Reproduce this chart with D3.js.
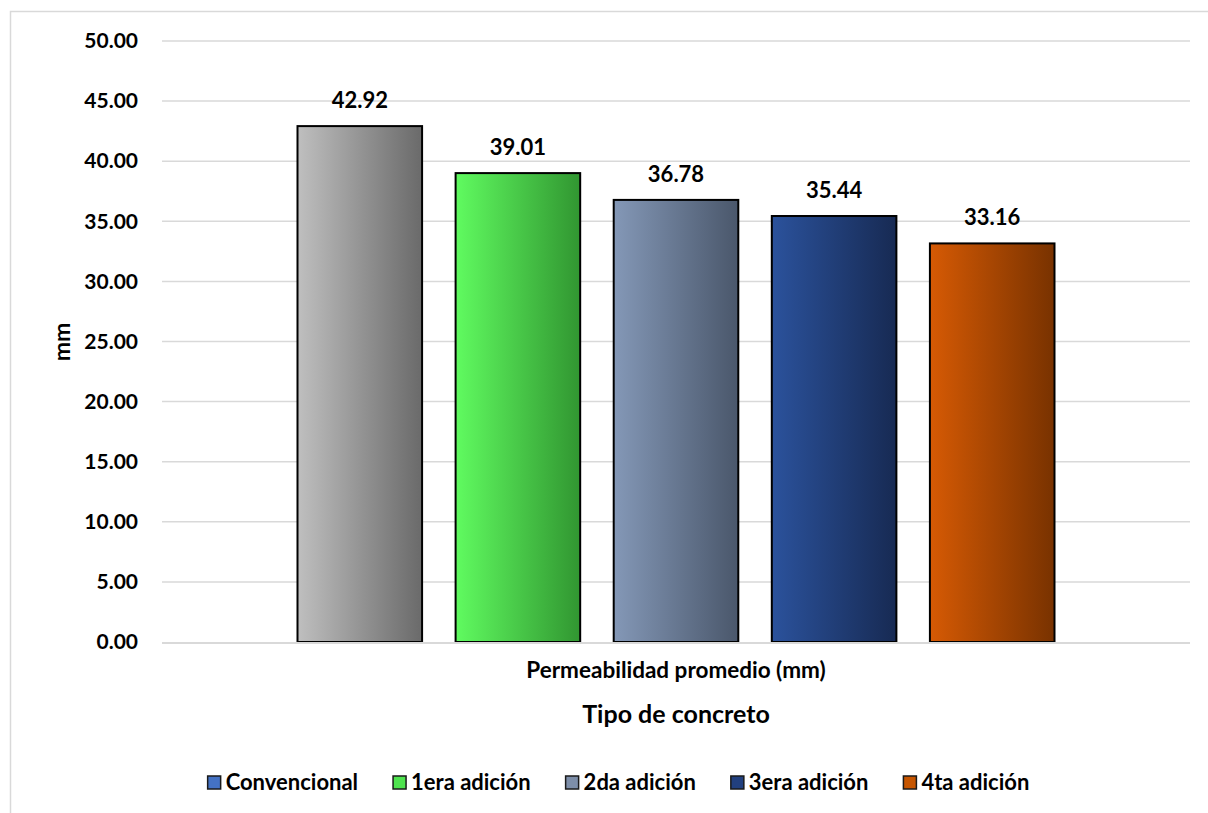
<!DOCTYPE html>
<html>
<head>
<meta charset="utf-8">
<script src="https://cdn.jsdelivr.net/npm/d3@7"></script>
<style>
  html, body { margin: 0; padding: 0; background: #fff; }
  svg { display: block; }
  text { font-family: Lato, "Open Sans", sans-serif; font-weight: bold; fill: #000; }
</style>
</head>
<body>
<svg id="chart" width="1208" height="813"></svg>
<script>
// Chart data
const categories = ["Permeabilidad promedio (mm)"];
const seriesNames = ["Convencional", "1era adición", "2da adición", "3era adición", "4ta adición"];
const seriesValues = [42.92, 39.01, 36.78, 35.44, 33.16];
const yTicks = [0, 5, 10, 15, 20, 25, 30, 35, 40, 45, 50];

// Bar fills: horizontal gradients, light on the left, dark on the right
const barGradients = [
  ["#bfbfbf", "#6a6a6a"],
  ["#60fb60", "#319631"],
  ["#8498b7", "#4a576b"],
  ["#2b529c", "#172a53"],
  ["#d65a04", "#783200"]
];
// Legend swatch fills
const legendColors = ["#4472c4", "#4fe34f", "#7d8ea9", "#22407f", "#c65500"];

const svg = d3.select("#chart");
const plot = { left: 162, right: 1190, top: 41, bottom: 642 };

// Chart area border
svg.append("rect")
  .attr("x", 10.5).attr("y", 11.5)
  .attr("width", 1230).attr("height", 830)
  .attr("fill", "#fff").attr("stroke", "#d9d9d9").attr("stroke-width", 1.5);

const defs = svg.append("defs");
barGradients.forEach((g, i) => {
  const lg = defs.append("linearGradient")
    .attr("id", "bar-grad-" + i)
    .attr("x1", "0%").attr("x2", "100%").attr("y1", "0%").attr("y2", "0%");
  lg.append("stop").attr("offset", "0%").attr("stop-color", g[0]);
  lg.append("stop").attr("offset", "100%").attr("stop-color", g[1]);
});

const y = d3.scaleLinear().domain([0, 50]).range([plot.bottom, plot.top]);
const x0 = d3.scaleBand().domain(categories)
  .range([plot.left, plot.right]).paddingInner(0).paddingOuter(0.179);
const x1 = d3.scaleBand().domain(seriesNames)
  .range([0, x0.bandwidth()]).paddingInner(0.212).paddingOuter(0);

// Horizontal gridlines
svg.append("g")
  .selectAll("line")
  .data(yTicks.filter(t => t > 0))
  .join("line")
  .attr("x1", plot.left).attr("x2", plot.right)
  .attr("y1", d => y(d)).attr("y2", d => y(d))
  .attr("stroke", "#d9d9d9").attr("stroke-width", 1.5);

// Y axis tick labels
const yAxis = d3.axisLeft(y).tickValues(yTicks).tickFormat(d3.format(".2f")).tickSize(0).tickPadding(0);
const yAxisG = svg.append("g")
  .attr("transform", `translate(138,0)`)
  .call(yAxis);
yAxisG.select(".domain").remove();
yAxisG.selectAll("text")
  .attr("font-size", 21)
  .attr("font-family", "Lato, sans-serif")
  .attr("font-weight", "bold")
  .attr("fill", "#000");

// Bars
const group = svg.append("g").attr("transform", `translate(${x0(categories[0])},0)`);
group.selectAll("rect.bar")
  .data(seriesValues)
  .join("rect")
  .attr("class", "bar")
  .attr("x", (d, i) => x1(seriesNames[i]))
  .attr("y", d => y(d))
  .attr("width", x1.bandwidth())
  .attr("height", d => y(0) - y(d))
  .attr("fill", (d, i) => `url(#bar-grad-${i})`)
  .attr("stroke", "#000")
  .attr("stroke-width", 2);

// Value labels
group.selectAll("text.value")
  .data(seriesValues)
  .join("text")
  .attr("class", "value")
  .attr("x", (d, i) => x1(seriesNames[i]) + x1.bandwidth() / 2)
  .attr("y", d => y(d) - 18)
  .attr("text-anchor", "middle")
  .attr("font-size", 22)
  .text(d => d3.format(".2f")(d));

// Category axis line
svg.append("line")
  .attr("x1", plot.left).attr("x2", plot.right)
  .attr("y1", plot.bottom + 1).attr("y2", plot.bottom + 1)
  .attr("stroke", "#d9d9d9").attr("stroke-width", 2);

// Category label
const xAxis = d3.axisBottom(x0).tickSize(0).tickPadding(0);
const xAxisG = svg.append("g").attr("transform", `translate(0,${plot.bottom})`).call(xAxis);
xAxisG.select(".domain").remove();
xAxisG.selectAll("text")
  .attr("dy", null)
  .attr("y", 36)
  .attr("font-size", 22.5)
  .attr("font-family", "Lato, sans-serif")
  .attr("font-weight", "bold")
  .attr("fill", "#000");

// Axis titles
svg.append("text")
  .attr("x", (plot.left + plot.right) / 2).attr("y", 723)
  .attr("text-anchor", "middle")
  .attr("font-size", 25)
  .text("Tipo de concreto");

svg.append("text")
  .attr("transform", `translate(70,342) rotate(-90)`)
  .attr("text-anchor", "middle")
  .attr("font-size", 23)
  .text("mm");

// Legend
const legend = svg.append("g").attr("class", "legend");
const items = legend.selectAll("g.item")
  .data(seriesNames)
  .join("g")
  .attr("class", "item");
items.append("rect")
  .attr("width", 13).attr("height", 13)
  .attr("y", -14)
  .attr("fill", (d, i) => legendColors[i])
  .attr("stroke", "#1a1a1a").attr("stroke-width", 1.5);
items.append("text")
  .attr("x", 18)
  .attr("y", 0)
  .attr("font-size", 22)
  .text(d => d);

let cursor = 0;
const gap = 35;
items.each(function () {
  const w = 18 + d3.select(this).select("text").node().getComputedTextLength();
  d3.select(this).attr("transform", `translate(${cursor},0)`);
  cursor += w + gap;
});
const totalWidth = cursor - gap;
legend.attr("transform", `translate(${618.5 - totalWidth / 2},790)`);
</script>
</body>
</html>
